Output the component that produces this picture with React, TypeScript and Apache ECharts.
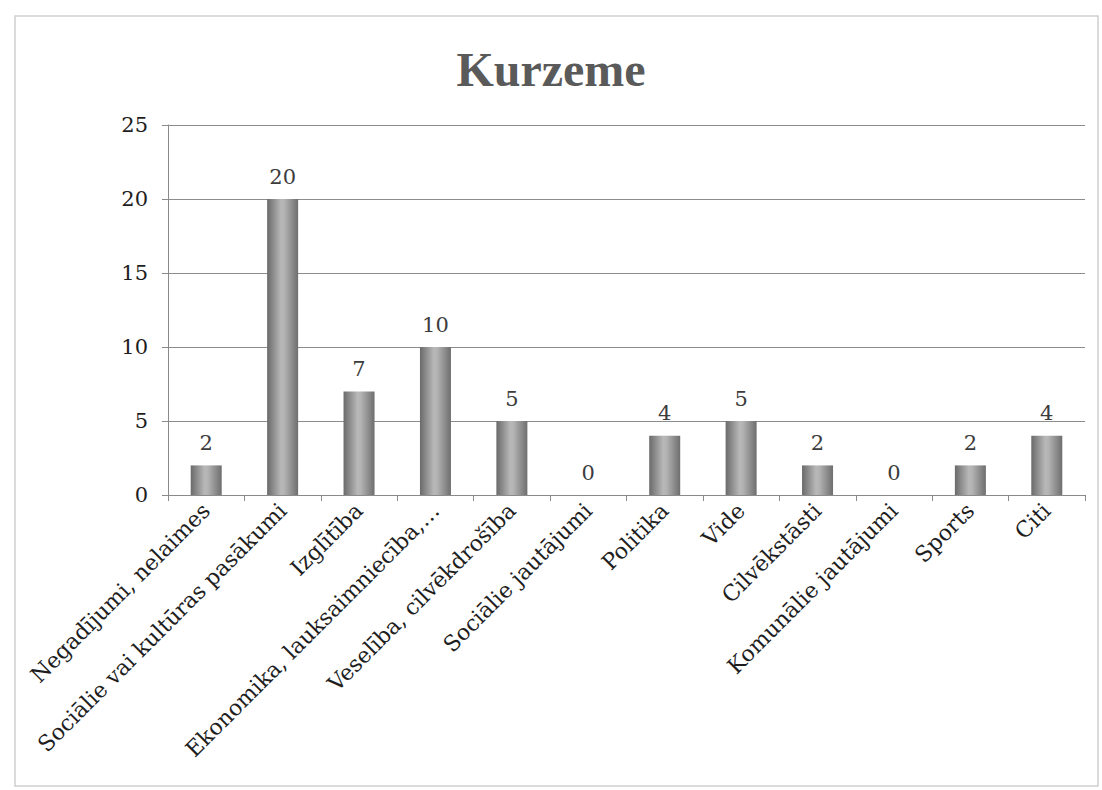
import React, { useEffect, useRef } from "react";
import * as echarts from "echarts";

const categories = [
  "Negadījumi, nelaimes",
  "Sociālie vai kultūras pasākumi",
  "Izglītība",
  "Ekonomika, lauksaimniecība,…",
  "Veselība, cilvēkdrošība",
  "Sociālie jautājumi",
  "Politika",
  "Vide",
  "Cilvēkstāsti",
  "Komunālie jautājumi",
  "Sports",
  "Citi",
];
const values = [2, 20, 7, 10, 5, 0, 4, 5, 2, 0, 2, 4];
const yTicks = [0, 5, 10, 15, 20, 25];

const FONT = "'DejaVu Serif', 'Liberation Serif', serif";
const TITLE_FONT = "'Liberation Serif', 'DejaVu Serif', serif";

export default function App() {
  const ref = useRef<HTMLDivElement>(null);
  useEffect(() => {
    if (!ref.current) return;
    const chart = echarts.init(ref.current, undefined, { renderer: "svg" });
    const barColor = new echarts.graphic.LinearGradient(0, 0, 1, 0, [
      { offset: 0, color: "#6a6a6a" },
      { offset: 0.45, color: "#b8b8b8" },
      { offset: 0.55, color: "#b4b4b4" },
      { offset: 1, color: "#6e6e6e" },
    ]);
    chart.setOption({
      animation: false,
      backgroundColor: "#ffffff",
      title: {
        text: "Kurzeme",
        left: "center",
        top: 40,
        textStyle: { fontFamily: TITLE_FONT, fontSize: 48, fontWeight: "bold", color: "#5a5a5a" },
      },
      graphic: [
        {
          type: "rect",
          shape: { x: 15, y: 16, width: 1083, height: 770 },
          style: { fill: "none", stroke: "#cfcfcf", lineWidth: 1.5 },
          silent: true,
        },
      ],
      grid: { left: 168, right: 17, top: 125, bottom: 295, containLabel: false },
      xAxis: {
        type: "category",
        data: categories,
        axisLine: { lineStyle: { color: "#8a8a8a", width: 1 } },
        axisTick: { show: true, alignWithLabel: false, length: 6, lineStyle: { color: "#8a8a8a" } },
        axisLabel: {
          interval: 0,
          rotate: 45,
          fontFamily: FONT,
          fontSize: 22,
          color: "#1e1e1e",
          margin: 12,
        },
      },
      yAxis: {
        type: "value",
        min: 0,
        max: 25,
        interval: 5,
        axisLine: { show: true, lineStyle: { color: "#8a8a8a" } },
        axisTick: { show: true, length: 6, lineStyle: { color: "#8a8a8a" } },
        axisLabel: {
          fontFamily: FONT,
          fontSize: 21,
          color: "#1e1e1e",
          margin: 20,
          formatter: (v: number) => (yTicks.includes(v) ? String(v) : ""),
        },
        splitLine: { show: true, lineStyle: { color: "#8c8c8c", width: 1 } },
      },
      series: [
        {
          type: "bar",
          data: values,
          barWidth: 31,
          itemStyle: { color: barColor },
          label: {
            show: true,
            position: "top",
            distance: 12,
            fontFamily: FONT,
            fontSize: 21,
            color: "#3c3c3c",
          },
        },
      ],
    });
    return () => chart.dispose();
  }, []);
  return (
    <div
      ref={ref}
      style={{ position: "fixed", left: 0, top: 0, width: 1102, height: 790 }}
    />
  );
}
